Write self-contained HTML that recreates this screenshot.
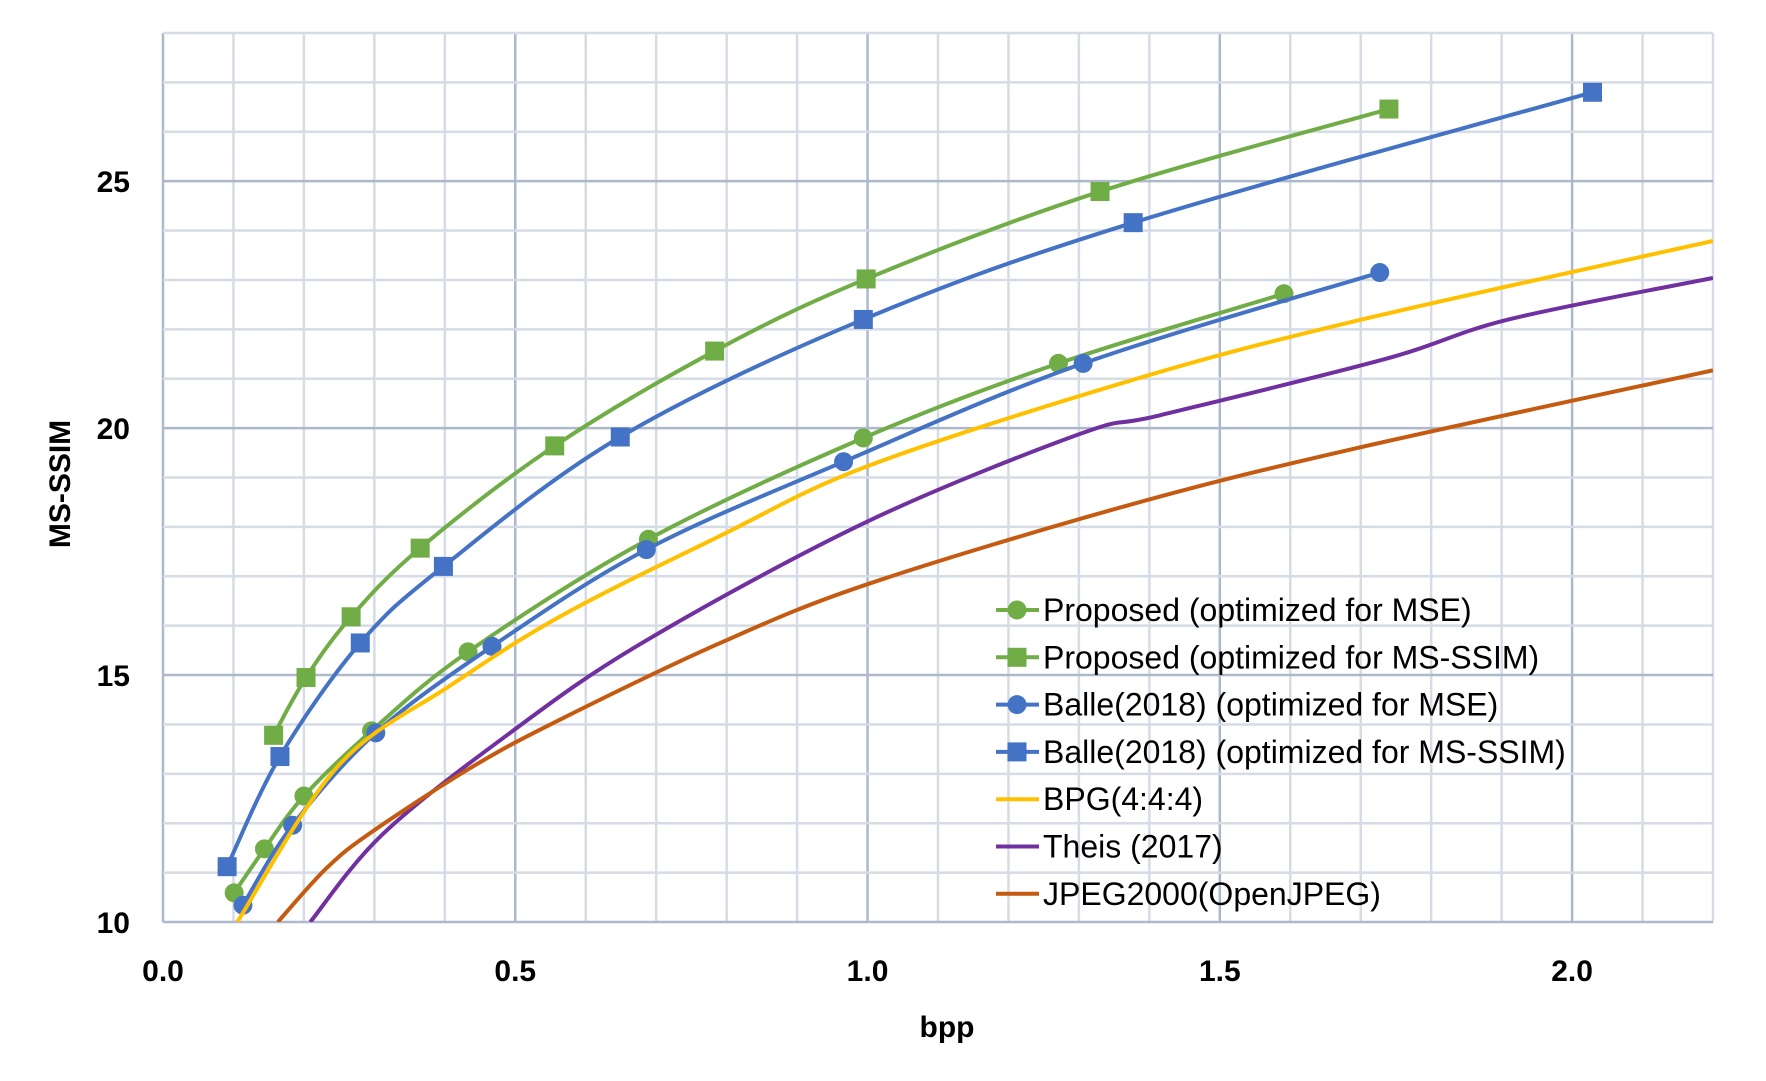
<!DOCTYPE html>
<html><head><meta charset="utf-8"><style>
html,body{margin:0;padding:0;background:#fff;}
svg{display:block;font-family:"Liberation Sans",sans-serif;}
</style></head><body>
<svg id="chart" width="1766" height="1081" viewBox="0 0 1766 1081">
<g id="grid"></g>
<g id="series"></g>
<g id="axes"></g>
<text x="947" y="1037" font-size="30" font-weight="bold" text-anchor="middle">bpp</text>
<text transform="translate(70,484) rotate(-90)" font-size="30" font-weight="bold" text-anchor="middle">MS-SSIM</text>
<g id="legend"></g>
</svg>
<script>
const seriesNames = ["Proposed (optimized for MSE)","Proposed (optimized for MS-SSIM)","Balle(2018) (optimized for MSE)","Balle(2018) (optimized for MS-SSIM)","BPG(4:4:4)","Theis (2017)","JPEG2000(OpenJPEG)"];
const propMseX = [0.101,0.144,0.2,0.296,0.433,0.689,0.994,1.271,1.591];
const propMseY = [10.59,11.48,12.55,13.87,15.47,17.75,19.80,21.31,22.72];
const propSsimX = [0.157,0.203,0.267,0.365,0.556,0.783,0.998,1.330,1.740];
const propSsimY = [13.78,14.95,16.18,17.57,19.64,21.56,23.02,24.79,26.46];
const balleMseX = [0.1135,0.184,0.302,0.467,0.686,0.966,1.306,1.727];
const balleMseY = [10.34,11.96,13.83,15.58,17.54,19.32,21.31,23.15];
const balleSsimX = [0.091,0.166,0.280,0.398,0.649,0.994,1.377,2.029];
const balleSsimY = [11.12,13.35,15.65,17.20,19.82,22.20,24.16,26.80];
const bpgX = [0.1055,0.248,0.408,0.568,0.791,1.0,1.368,1.687,2.2];
const bpgY = [10.0,13.15,14.79,16.22,17.82,19.23,20.94,22.15,23.79];
const theisX = [0.209,0.312,0.488,0.680,1.0,1.303,1.415,1.735,1.91,2.2];
const theisY = [10.0,11.78,13.78,15.65,18.11,19.89,20.26,21.40,22.2,23.04];
const jpegX = [0.163,0.232,0.296,0.44,0.568,0.791,1.0,1.368,1.687,2.2];
const jpegY = [10.0,11.09,11.82,13.15,14.13,15.65,16.84,18.43,19.57,21.17];
const xTicks = ["0.0","0.5","1.0","1.5","2.0"];
const yTicks = ["10","15","20","25"];

const L=163,R=1713,T=33,B=922,XMIN=0,XMAX=2.2,YMIN=10,YMAX=28;
const sx=v=>L+(v-XMIN)/(XMAX-XMIN)*(R-L);
const sy=v=>B-(v-YMIN)/(YMAX-YMIN)*(B-T);
const NS="http://www.w3.org/2000/svg";
function mk(tag,attrs,parent){const e=document.createElementNS(NS,tag);for(const k in attrs)e.setAttribute(k,attrs[k]);parent.appendChild(e);return e;}
const grid=document.getElementById('grid'),axes=document.getElementById('axes'),ser=document.getElementById('series'),leg=document.getElementById('legend');
for(let i=0;i<=22;i++){const v=i*0.1;const major=i%5===0;
 const l=mk('line',{x1:sx(v),x2:sx(v),y1:T,y2:B,stroke:major?'#adb9ca':'#d6dce5','stroke-width':2.5},grid);
 }
for(let v=10;v<=28;v++){const major=v%5===0;
 const l=mk('line',{x1:L,x2:R,y1:sy(v),y2:sy(v),stroke:major?'#adb9ca':'#d6dce5','stroke-width':2.5},grid);
 }
xTicks.forEach(t=>{const e=mk('text',{x:sx(+t),y:981,'font-size':30,'font-weight':'bold','text-anchor':'middle'},axes);e.textContent=t;
 });
yTicks.forEach(t=>{const e=mk('text',{x:130,y:sy(+t)+11,'font-size':30,'font-weight':'bold','text-anchor':'end'},axes);e.textContent=t;
 });
function smooth(xs,ys){const p=xs.map((x,i)=>[sx(x),sy(ys[i])]);let d='M'+p[0][0]+','+p[0][1];
 for(let i=0;i<p.length-1;i++){const p0=p[i-1]||p[i],p1=p[i],p2=p[i+1],p3=p[i+2]||p2;
  const c1=[p1[0]+(p2[0]-p0[0])/6,p1[1]+(p2[1]-p0[1])/6],c2=[p2[0]-(p3[0]-p1[0])/6,p2[1]-(p3[1]-p1[1])/6];
  d+=' C'+c1+' '+c2+' '+p2;}return d;}
const defs=[[propMseX,propMseY,'#70ad47','c'],[propSsimX,propSsimY,'#70ad47','s'],[balleMseX,balleMseY,'#4472c4','c'],[balleSsimX,balleSsimY,'#4472c4','s'],[bpgX,bpgY,'#ffc000',''],[theisX,theisY,'#7030a0',''],[jpegX,jpegY,'#c55a11','']];
const clip=mk('clipPath',{id:'pc'},ser);mk('rect',{x:L,y:T,width:R-L,height:B-T},clip);
function marker(type,x,y,col,g,name){let m;
 if(type==='c')m=mk('circle',{cx:x,cy:y,r:9.5,fill:col},g);
 else m=mk('rect',{x:x-9.5,y:y-9.5,width:19,height:19,fill:col},g);
 }
defs.forEach((d,si)=>{const g=mk('g',{'clip-path':'url(#pc)'},ser);
 
 const p=mk('path',{d:smooth(d[0],d[1]),fill:'none',stroke:d[2],'stroke-width':4,'stroke-linejoin':'round'},g);
 
 if(d[3])d[0].forEach((x,i)=>marker(d[3],sx(x),sy(d[1][i]),d[2],g,'data-point'));
 const ly=610+si*47.3;
 const lg=mk('g',{},leg);
 mk('line',{x1:996,x2:1039,y1:ly,y2:ly,stroke:d[2],'stroke-width':4},lg);
 if(d[3])marker(d[3],1017,ly,d[2],lg,'legend-marker');
 const t=mk('text',{x:1043,y:ly+11,'font-size':32},lg);t.textContent=seriesNames[si];
 
});
</script>
</body></html>
